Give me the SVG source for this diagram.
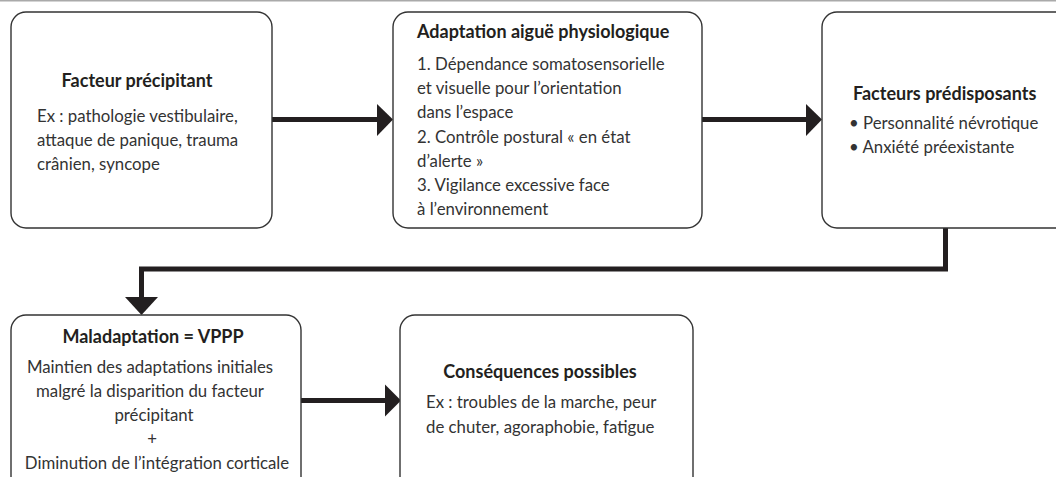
<svg xmlns="http://www.w3.org/2000/svg" width="1056" height="477" viewBox="0 0 1056 477">
<defs>
<style>
.box{fill:#fff;stroke:#333;stroke-width:1.4}
.t{font-family:Lato,"Open Sans","Liberation Sans",sans-serif;font-size:16.8px;fill:#333}
.b{font-weight:bold;font-size:18px;fill:#231f20}
.c{text-anchor:middle}
.con{fill:none;stroke:#231f20;stroke-width:5}
.ah{fill:#231f20}
</style>
</defs>
<rect x="0" y="0" width="1056" height="477" fill="#fff"/>
<rect x="0" y="0" width="1056" height="1.5" fill="#aaa"/>
<g id="connectors">
<line class="con" x1="272" y1="119.5" x2="380" y2="119.5"/>
<polygon class="ah" points="377,104 393,119.5 377,136"/>
<line class="con" x1="702" y1="119.5" x2="809" y2="119.5"/>
<polygon class="ah" points="806,104 822,119.5 806,136"/>
<polyline class="con" points="945.5,228 945.5,269 141.5,269 141.5,300"/>
<polygon class="ah" points="125,297 141.5,315 158,297"/>
<line class="con" x1="301" y1="400.5" x2="388" y2="400.5"/>
<polygon class="ah" points="385,384.5 401,400.5 385,416.5"/>
</g>
<g id="n1">
<rect class="box" x="11" y="12" width="261" height="216" rx="15"/>
<text class="t b c" x="137" y="87">Facteur précipitant</text>
<text class="t" x="37" y="122">Ex : pathologie vestibulaire,</text>
<text class="t" x="37" y="146">attaque de panique, trauma</text>
<text class="t" x="37" y="170">crânien, syncope</text>
</g>
<g id="n2">
<rect class="box" x="393" y="12" width="309" height="216" rx="15"/>
<text class="t b" x="417" y="38">Adaptation aiguë physiologique</text>
<text class="t" x="417" y="70">1. Dépendance somatosensorielle</text>
<text class="t" x="417" y="94">et visuelle pour l’orientation</text>
<text class="t" x="417" y="118">dans l’espace</text>
<text class="t" x="417" y="143">2. Contrôle postural « en état</text>
<text class="t" x="417" y="167">d’alerte »</text>
<text class="t" x="417" y="191">3. Vigilance excessive face</text>
<text class="t" x="417" y="215">à l’environnement</text>
</g>
<g id="n3">
<rect class="box" x="822" y="12" width="260" height="216" rx="15"/>
<text class="t b" x="853" y="100">Facteurs prédisposants</text>
<text class="t" x="849" y="129">• Personnalité névrotique</text>
<text class="t" x="849" y="153">• Anxiété préexistante</text>
</g>
<g id="n4">
<rect class="box" x="11" y="315" width="290" height="180" rx="15"/>
<text class="t b c" x="153" y="343">Maladaptation = VPPP</text>
<text class="t c" x="150" y="373">Maintien des adaptations initiales</text>
<text class="t c" x="150" y="397">malgré la disparition du facteur</text>
<text class="t c" x="154" y="421">précipitant</text>
<text class="t c" x="152" y="445">+</text>
<text class="t c" x="157" y="469">Diminution de l’intégration corticale</text>
</g>
<g id="n5">
<rect class="box" x="400" y="315" width="293" height="180" rx="15"/>
<text class="t b c" x="540" y="378">Conséquences possibles</text>
<text class="t" x="426" y="408">Ex : troubles de la marche, peur</text>
<text class="t" x="426" y="433">de chuter, agoraphobie, fatigue</text>
</g>
</svg>
